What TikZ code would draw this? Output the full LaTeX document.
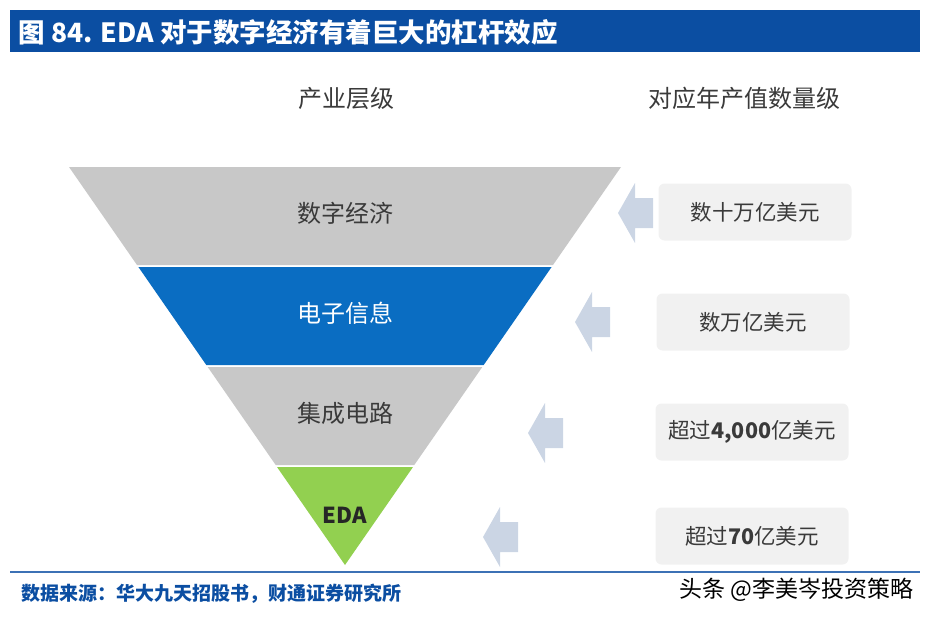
\documentclass[tikz,border=0pt]{standalone}
\usepackage{fontspec}
\setmainfont{Noto Sans CJK SC}
\usepackage{tikz}

\definecolor{titleblue}{HTML}{0B4EA2}
\definecolor{bandgray}{HTML}{C8C8C8}
\definecolor{bandblue}{HTML}{0A6DC2}
\definecolor{bandgreen}{HTML}{92D050}
\definecolor{arrowgray}{HTML}{CBD5E4}
\definecolor{boxgray}{HTML}{F1F1F1}
\definecolor{textgray}{HTML}{3A3A3A}

\newcommand{\fsz}[1]{\fontsize{#1}{#1}\selectfont}

\begin{document}
\begin{tikzpicture}[x=1pt,y=-1pt,
    header/.style={text=textgray, font=\fsz{24}},
    bandlabel/.style={text=textgray, font=\fsz{24}},
    valbox/.style={fill=boxgray, rounded corners=6pt, minimum width=193pt,
        minimum height=57pt, text=textgray, font=\fsz{21.5}}]
\useasboundingbox (0,0) rectangle (934,618);

% title bar
\fill[titleblue] (10,10) rectangle (920,52);
\node[anchor=west, text=white, font=\bfseries\fsz{26.5}] (title) at (15,32)
    {图 84. EDA 对于数字经济有着巨大的杠杆效应};

\node[header] (hleft) at (346,98) {产业层级};
\node[header] (hright) at (744,98) {对应年产值数量级};

% inverted pyramid
\fill[bandgray] (69,167) -- (621,167) -- (553,265) -- (137,265) -- cycle;
\fill[bandblue] (138.4,267) -- (551.6,267) -- (483.7,365) -- (206.3,365) -- cycle;
\fill[bandgray] (207.7,367) -- (482.3,367) -- (414.3,465) -- (275.7,465) -- cycle;
\fill[bandgreen] (277,467) -- (413,467) -- (345,565) -- cycle;

\node[bandlabel] (digital) at (345,213) {数字经济};
\node[bandlabel, text=white] (electronic) at (345,313) {电子信息};
\node[bandlabel] (ic) at (345,413) {集成电路};
\node[bandlabel, text=black!85, font=\bfseries\fsz{22}] (eda) at (345,515) {EDA};

% arrows
\foreach \tx/\ty in {618/213, 575/322, 528/433, 483/537}
    \fill[arrowgray] (\tx,\ty) -- ++(17,-30) -- ++(0,15) -- ++(18,0)
        -- ++(0,30) -- ++(-18,0) -- ++(0,15) -- cycle;

% value boxes
\node[valbox] (v1) at (755,212) {数十万亿美元};
\node[valbox] (v2) at (753,322) {数万亿美元};
\node[valbox] (v3) at (752,432) {超过{\bfseries 4,000}亿美元};
\node[valbox] (v4) at (752,536) {超过{\bfseries 70}亿美元};

% footer
\draw[titleblue!80, line width=1.2pt] (10,572) -- (920,572);
\node[anchor=west, text=titleblue, font=\bfseries\fsz{19}] (source) at (18,594)
    {数据来源：华大九天招股书，财通证券研究所};
\node[anchor=east, text=black, font=\fsz{23}] (mark) at (917,590)
    {头条 @李美岑投资策略};
\end{tikzpicture}
\end{document}
